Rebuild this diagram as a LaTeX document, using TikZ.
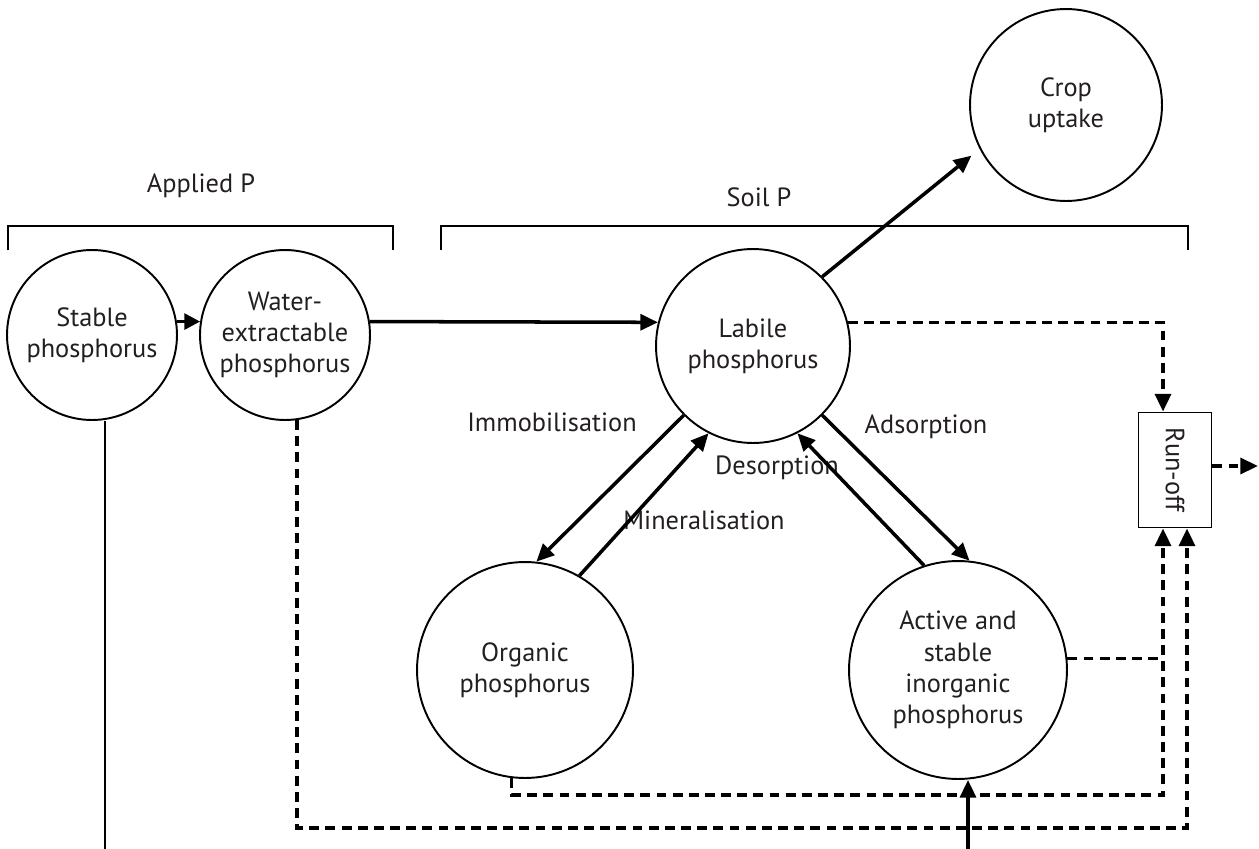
\documentclass[tikz,border=0pt]{standalone}
\usepackage{tikz}
\usepackage{xcolor}
\usepackage{fontspec}
\setmainfont{PT Sans}
\usetikzlibrary{arrows.meta,calc}
\definecolor{phBlack}{HTML}{000000}
\definecolor{phText}{HTML}{231F20}

\begin{document}
\begin{tikzpicture}[x=0.02cm,y=-0.02cm]
    \tikzset{
        pool/.style={circle,draw=phBlack,line width=1.1pt,inner sep=0pt,align=center,text=phText,font=\fontsize{15}{17.8}\selectfont},
        flow/.style={-{Triangle[length=10pt,width=9pt]},line width=2pt},
        leak/.style={flow,dash pattern=on 5.6pt off 3.6pt},
        leakline/.style={line width=2pt,dash pattern=on 5.6pt off 3.6pt},
        lbl/.style={text=phText,font=\fontsize{15}{17.8}\selectfont},
        bracket/.style={line width=1.1pt}
    }
    \useasboundingbox (0,0) rectangle (1259,849);

    \node[lbl] (appliedLbl) at (201,186) {Applied P};
    \node[lbl] (soilLbl) at (759,197) {Soil P};
    \draw[bracket] (8,250) -- (8,226) -- (393,226) -- (393,250);
    \draw[bracket] (441,250) -- (441,226) -- (1188,226) -- (1188,250);

    \node[pool,minimum size=3.4cm] (stable) at (92,335) {Stable\\phosphorus};
    \node[pool,minimum size=3.4cm] (water) at (285,335) {Water-\\extractable\\phosphorus};
    \node[pool,minimum size=3.88cm] (labile) at (753,346) {Labile\\phosphorus};
    \node[pool,minimum size=3.84cm] (crop) at (1066,105) {Crop\\uptake};
    \node[pool,minimum size=4.32cm] (organic) at (525,670) {Organic\\phosphorus};
    \node[pool,minimum size=4.36cm] (active) at (958,670) {Active and\\stable\\inorganic\\phosphorus};
    \node[draw=phBlack,line width=1.1pt,minimum width=1.46cm,minimum height=2.3cm] (runoff) at (1175,470) {};
    \node[lbl,rotate=-90] (runoffLbl) at (runoff.center) {Run-off};

    \node[lbl] (immoLbl) at (552,422) {Immobilisation};
    \node[lbl] (adsoLbl) at (926,427) {Adsorption};
    \node[lbl] (desoLbl) at (777,468) {Desorption};
    \node[lbl] (mineLbl) at (704,520) {Mineralisation};

    \coordinate (topIn) at ($(runoff.north)+(-12,0)$);
    \coordinate (inA) at ($(runoff.south)+(-12,0)$);
    \coordinate (inB) at ($(runoff.south)+(12,0)$);
    \coordinate (orgLow) at (0,795);
    \coordinate (waterLow) at (0,828);
    \coordinate (outEnd) at (1258,466);
    \coordinate (stableEnd) at (105,849);
    \coordinate (actEnd) at (968,849);

    \draw[flow,-{Triangle[length=9pt,width=9pt]}] (stable.9) -- (water.171);
    \draw[flow] (water.9) -- (labile.166);
    \draw[flow,shorten >=6pt] (labile.45) -- (crop.207);
    \draw[flow] (labile.225) -- (organic.84);
    \draw[flow] (organic.60) -- (labile.243);
    \draw[flow] (labile.315) -- (active.84);
    \draw[flow] (active.108) -- (labile.297);

    \draw[leak] (labile.14) -| (topIn);
    \draw[leakline] (active.6) -- (active.6 -| inA);
    \draw[leak] (organic.263) -- (organic.263 |- orgLow) -| (inA);
    \draw[leak] (water.278) -- (water.278 |- waterLow) -| (inB);
    \draw[leak] (runoff.east |- outEnd) -- (outEnd);

    \draw[bracket] (stable.south -| stableEnd) -- (stableEnd);
    \draw[flow] (actEnd) -- (actEnd |- active.south);
\end{tikzpicture}
\end{document}
